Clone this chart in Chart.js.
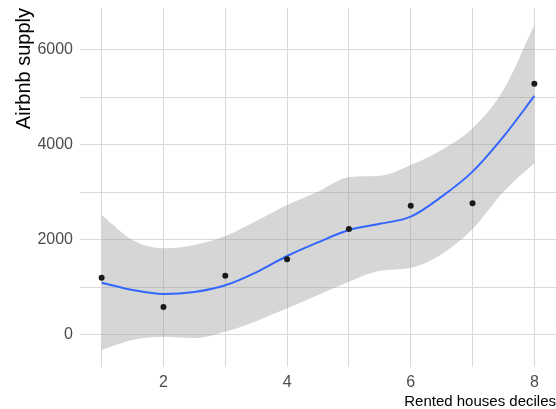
<!DOCTYPE html>
<html>
<head>
<meta charset="utf-8">
<script src="https://cdn.jsdelivr.net/npm/chart.js@4"></script>
<style>
  body { margin: 0; background: #fff; }
</style>
</head>
<body>
<canvas id="grafico" width="556" height="409"></canvas>
<script>
// observed points (decile, supply)
var deciles = [1, 2, 3, 4, 5, 6, 7, 8];
var supply = [1206, 589, 1248, 1594, 2232, 2723, 2772, 5291];

// smooth line and its band, read at half steps
var smoothX = [1, 1.5, 2, 2.5, 3, 3.5, 4, 4.5, 5, 5.5, 6, 6.5, 7, 7.5, 8];
var smoothFit = [1100, 947, 863, 905, 1046, 1320, 1663, 1950, 2210, 2340, 2491, 2912, 3439, 4175, 5032];
var bandUpper = [2526, 2000, 1825, 1895, 2084, 2400, 2737, 3017, 3320, 3350, 3579, 3895, 4351, 5158, 6526];
var bandLower = [-316, -105, -36, -63, 70, 290, 561, 842, 1123, 1350, 1410, 1700, 2230, 3017, 3614];

var xTicks = [1, 2, 3, 4, 5, 6, 7, 8];
var yTicks = [0, 1000, 2000, 3000, 4000, 5000, 6000];

function pares(xs, ys) {
  var out = [];
  for (var i = 0; i < xs.length; i++) {
    out.push({ x: xs[i], y: ys[i] });
  }
  return out;
}

var gridCor = '#d9d9d9';

var ctx = document.getElementById('grafico').getContext('2d');
var chart = new Chart(ctx, {
  type: 'line',
  data: {
    datasets: [
      {
        label: 'pontos',
        data: pares(deciles, supply),
        showLine: false,
        pointRadius: 3,
        pointBackgroundColor: '#1a1a1a',
        pointBorderWidth: 0,
        order: 0
      },
      {
        label: 'loess',
        data: pares(smoothX, smoothFit),
        borderColor: '#3366FF',
        borderWidth: 2,
        pointRadius: 0,
        cubicInterpolationMode: 'monotone',
        fill: false,
        order: 1
      },
      {
        label: 'superior',
        data: pares(smoothX, bandUpper),
        borderWidth: 0,
        borderColor: 'rgba(0,0,0,0)',
        backgroundColor: 'rgba(153,153,153,0.4)',
        pointRadius: 0,
        cubicInterpolationMode: 'monotone',
        fill: '+1',
        order: 2
      },
      {
        label: 'inferior',
        data: pares(smoothX, bandLower),
        borderWidth: 0,
        borderColor: 'rgba(0,0,0,0)',
        pointRadius: 0,
        cubicInterpolationMode: 'monotone',
        fill: false,
        order: 3
      }
    ]
  },
  options: {
    responsive: false,
    animation: false,
    layout: { autoPadding: false, padding: { top: 8, right: 0, left: 0, bottom: 0 } },
    plugins: {
      legend: { display: false },
      tooltip: { enabled: false }
    },
    scales: {
      x: {
        type: 'linear',
        min: 0.65,
        max: 8.35,
        border: { display: false },
        grid: { color: gridCor, lineWidth: 1, drawTicks: false },
        afterBuildTicks: function (axis) {
          axis.ticks = xTicks.map(function (v) { return { value: v }; });
        },
        afterFit: function (axis) {
          axis.height = 42;
          axis.paddingLeft = 0;
          axis.paddingRight = 0;
        },
        ticks: {
          padding: 6,
          color: '#4d4d4d',
          font: { family: 'Liberation Sans', size: 16 },
          autoSkip: false,
          maxRotation: 0,
          callback: function (v) { return v % 2 === 0 ? String(v) : ''; }
        },
        title: {
          display: true,
          text: 'Rented houses deciles',
          align: 'end',
          color: '#000',
          padding: { top: 0, bottom: 0 },
          font: { family: 'Liberation Sans', size: 15, lineHeight: 1 }
        }
      },
      y: {
        type: 'linear',
        min: -674,
        max: 6884,
        border: { display: false },
        grid: { color: gridCor, lineWidth: 1, drawTicks: false },
        afterBuildTicks: function (axis) {
          axis.ticks = yTicks.map(function (v) { return { value: v }; });
        },
        afterFit: function (axis) {
          axis.width = 80;
          axis.paddingTop = 0;
          axis.paddingBottom = 0;
        },
        ticks: {
          padding: 7,
          color: '#4d4d4d',
          font: { family: 'Liberation Sans', size: 16 },
          autoSkip: false,
          callback: function (v) { return v % 2000 === 0 ? String(v) : ''; }
        },
        title: {
          display: true,
          text: 'Airbnb supply',
          align: 'end',
          color: '#000',
          padding: { top: 12, bottom: 0 },
          font: { family: 'Liberation Sans', size: 20, lineHeight: 1.2 }
        }
      }
    }
  }
});
</script>
</body>
</html>
